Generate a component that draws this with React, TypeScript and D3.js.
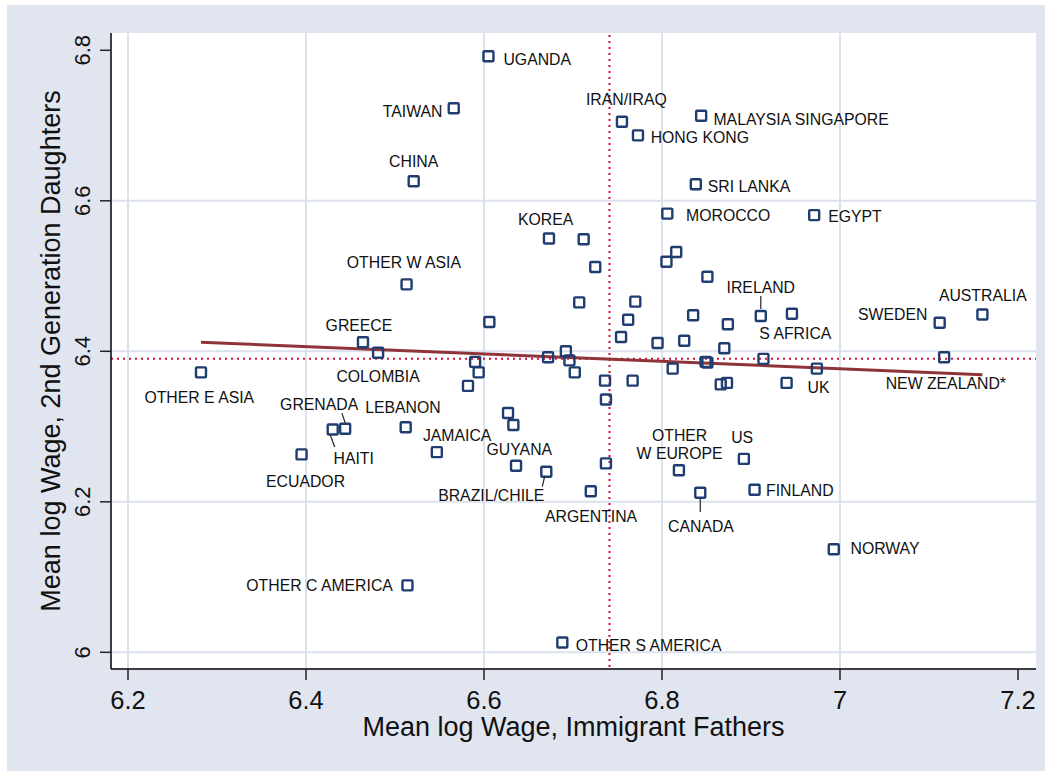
import React from 'react';
import * as d3 from 'd3';

// Stata-style scatter: 2nd generation daughters vs immigrant fathers, by origin country

const W = 1051;
const H = 772;
const FONT = '"Liberation Sans", Arial, Helvetica, sans-serif';

// ─── data ──────────────────────────────────────────────────────────────────

const countries = [
  'UGANDA', 'TAIWAN', 'IRAN/IRAQ', 'MALAYSIA SINGAPORE', 'HONG KONG', 'CHINA',
  'SRI LANKA', 'MOROCCO', 'EGYPT', 'KOREA', 'OTHER W ASIA', 'IRELAND', 'S AFRICA',
  'SWEDEN', 'AUSTRALIA', 'GREECE', 'COLOMBIA', 'OTHER E ASIA', 'NEW ZEALAND*', 'UK',
  'GRENADA', 'HAITI', 'LEBANON', 'JAMAICA', 'ECUADOR', 'GUYANA', 'BRAZIL/CHILE',
  'ARGENTINA', 'OTHER\nW EUROPE', 'US', 'CANADA', 'FINLAND', 'NORWAY',
  'OTHER C AMERICA', 'OTHER S AMERICA',
];
const fatherWage = [
  6.605, 6.566, 6.755, 6.844, 6.773, 6.521,
  6.838, 6.806, 6.971, 6.673, 6.513, 6.911, 6.946,
  7.112, 7.160, 6.464, 6.481, 6.282, 7.117, 6.974,
  6.444, 6.430, 6.512, 6.547, 6.395, 6.636, 6.670,
  6.720, 6.819, 6.892, 6.843, 6.904, 6.993,
  6.514, 6.688,
];
const daughterWage = [
  6.792, 6.723, 6.705, 6.713, 6.687, 6.626,
  6.622, 6.583, 6.581, 6.550, 6.489, 6.447, 6.450,
  6.438, 6.449, 6.412, 6.398, 6.372, 6.392, 6.377,
  6.297, 6.296, 6.299, 6.266, 6.263, 6.248, 6.240,
  6.214, 6.242, 6.257, 6.212, 6.216, 6.137,
  6.089, 6.013,
];

// unlabelled origins
const otherFatherWage = [
  6.712, 6.725, 6.805, 6.816, 6.851, 6.707, 6.770, 6.606, 6.762, 6.754,
  6.795, 6.825, 6.835, 6.874, 6.870, 6.914, 6.812, 6.851, 6.849, 6.866,
  6.873, 6.940, 6.590, 6.594, 6.582, 6.672, 6.692, 6.696, 6.702, 6.736,
  6.737, 6.767, 6.627, 6.633, 6.737,
];
const otherDaughterWage = [
  6.549, 6.512, 6.519, 6.532, 6.499, 6.465, 6.466, 6.439, 6.442, 6.419,
  6.411, 6.414, 6.448, 6.436, 6.404, 6.390, 6.377, 6.385, 6.386, 6.356,
  6.358, 6.358, 6.386, 6.372, 6.354, 6.392, 6.400, 6.388, 6.372, 6.361,
  6.336, 6.361, 6.318, 6.302, 6.251,
];

const meanFather = 6.741;
const meanDaughter = 6.39;
const fitX = [6.282, 7.16];
const fitY = [6.412, 6.369];

const xTicks = [6.2, 6.4, 6.6, 6.8, 7, 7.2];
const yTicks = [6, 6.2, 6.4, 6.6, 6.8];
const xGrid = [6.2, 6.4, 6.6, 6.8, 7];
const yGrid = [6, 6.2, 6.4, 6.6];

// ─── label placement (offsets from marker centre, px) ─────────────────────

type Lbl = { a: 'start' | 'middle' | 'end'; dx: number; dy: number; lead?: [number, number, number, number] };
const labelAt: Record<string, Lbl> = {
  'UGANDA': { a: 'start', dx: 15, dy: 2.6 },
  'TAIWAN': { a: 'end', dx: -11.3, dy: 2.7 },
  'IRAN/IRAQ': { a: 'middle', dx: 4.4, dy: -22.4 },
  'MALAYSIA SINGAPORE': { a: 'start', dx: 12.3, dy: 3.3 },
  'HONG KONG': { a: 'start', dx: 12.7, dy: 2.3 },
  'CHINA': { a: 'middle', dx: 0, dy: -20 },
  'SRI LANKA': { a: 'start', dx: 12, dy: 1.7 },
  'MOROCCO': { a: 'start', dx: 18.7, dy: 2 },
  'EGYPT': { a: 'start', dx: 14, dy: 1 },
  'KOREA': { a: 'middle', dx: -3.3, dy: -19.3 },
  'OTHER W ASIA': { a: 'middle', dx: -2.7, dy: -22 },
  'IRELAND': { a: 'middle', dx: 0, dy: -28.7, lead: [0, -20, 0, -7] },
  'S AFRICA': { a: 'middle', dx: 3.4, dy: 19.3 },
  'SWEDEN': { a: 'end', dx: -12.3, dy: -8.2 },
  'AUSTRALIA': { a: 'middle', dx: 0.4, dy: -18.6 },
  'GREECE': { a: 'middle', dx: -4, dy: -16.8 },
  'COLOMBIA': { a: 'middle', dx: 0, dy: 23.3 },
  'OTHER E ASIA': { a: 'middle', dx: -1.7, dy: 24.6 },
  'NEW ZEALAND*': { a: 'middle', dx: 1.7, dy: 25.6 },
  'UK': { a: 'middle', dx: 1.6, dy: 19 },
  'GRENADA': { a: 'middle', dx: -26, dy: -24, lead: [-3.3, -15.7, 0, -6] },
  'HAITI': { a: 'middle', dx: 21, dy: 29, lead: [-2.3, 5.7, 2, 17.4] },
  'LEBANON': { a: 'middle', dx: -2.7, dy: -19.7 },
  'JAMAICA': { a: 'middle', dx: 20.3, dy: -17 },
  'ECUADOR': { a: 'middle', dx: 4, dy: 27.4 },
  'GUYANA': { a: 'middle', dx: 3.3, dy: -16.4 },
  'BRAZIL/CHILE': { a: 'middle', dx: -55, dy: 23.3, lead: [-1.7, 5, -4, 15] },
  'ARGENTINA': { a: 'middle', dx: 0.3, dy: 24.7 },
  'OTHER\nW EUROPE': { a: 'middle', dx: 0.7, dy: -35 },
  'US': { a: 'middle', dx: -1.7, dy: -21.6 },
  'CANADA': { a: 'middle', dx: 0.7, dy: 34, lead: [0, 6.3, 0, 19.3] },
  'FINLAND': { a: 'start', dx: 11.5, dy: 1 },
  'NORWAY': { a: 'start', dx: 16.7, dy: -1 },
  'OTHER C AMERICA': { a: 'end', dx: -14.6, dy: 0.3 },
  'OTHER S AMERICA': { a: 'start', dx: 13.4, dy: 2.7 },
};

// ─── styling ──────────────────────────────────────────────────────────────

const BG = '#e0e5f0';
const GRID = '#dbe1ed';
const NAVY = '#1f3d70';
const MAROON = '#8f3439';
const RED = '#d0103a';
const LBL_FS = 15.8;
const PLOT = { l: 111, r: 1036, t: 33, b: 669 };

const x = d3.scaleLinear().domain([6.2, 7.2]).range([128, 1018]);
const y = d3.scaleLinear().domain([6, 6.8]).range([652.3, 50.3]);

const Marker: React.FC<{ cx: number; cy: number }> = ({ cx, cy }) => (
  <rect x={cx - 5} y={cy - 5} width={10} height={10} rx={1} fill="none" stroke={NAVY} strokeWidth={2.4} />
);

export default function App() {
  const fit = d3.line<number>().x(d => x(d)).y((_, i) => y(fitY[i]));
  return (
    <svg width={W} height={H} style={{ position: 'absolute', left: 0, top: 0 }} fontFamily={FONT}>
      <rect x={7} y={5} width={1038} height={766} fill={BG} />
      <rect x={PLOT.l} y={PLOT.t} width={PLOT.r - PLOT.l} height={PLOT.b - PLOT.t} fill="#fff" />

      {/* grid */}
      {xGrid.map(v => (
        <line key={`gx${v}`} x1={x(v)} x2={x(v)} y1={PLOT.t} y2={PLOT.b} stroke={GRID} strokeWidth={2} />
      ))}
      {yGrid.map(v => (
        <line key={`gy${v}`} x1={PLOT.l} x2={PLOT.r} y1={y(v)} y2={y(v)} stroke={GRID} strokeWidth={2} />
      ))}

      {/* mean reference lines */}
      <line x1={x(meanFather)} x2={x(meanFather)} y1={PLOT.t + 2} y2={PLOT.b} stroke={RED} strokeWidth={2} strokeDasharray="2 4" />
      <line x1={PLOT.l} x2={PLOT.r} y1={y(meanDaughter)} y2={y(meanDaughter)} stroke={RED} strokeWidth={2} strokeDasharray="2 4" />

      {/* fitted line */}
      <path d={fit(fitX) ?? undefined} fill="none" stroke={MAROON} strokeWidth={3} />

      {/* markers */}
      {otherFatherWage.map((v, i) => (
        <Marker key={`o${i}`} cx={x(v)} cy={y(otherDaughterWage[i])} />
      ))}
      {fatherWage.map((v, i) => (
        <Marker key={`m${i}`} cx={x(v)} cy={y(daughterWage[i])} />
      ))}

      {/* labels */}
      {countries.map((name, i) => {
        const cx = x(fatherWage[i]);
        const cy = y(daughterWage[i]);
        const l = labelAt[name];
        const lines = name.split('\n');
        return (
          <g key={name}>
            {l.lead && (
              <line x1={cx + l.lead[0]} y1={cy + l.lead[1]} x2={cx + l.lead[2]} y2={cy + l.lead[3]} stroke="#222" strokeWidth={1.2} />
            )}
            {lines.map((t, k) => (
              <text
                key={k}
                x={cx + l.dx}
                y={cy + l.dy + k * 18.3 + 0.358 * LBL_FS}
                textAnchor={l.a}
                fontSize={LBL_FS}
                fill="#111"
              >
                {t}
              </text>
            ))}
          </g>
        );
      })}

      {/* axes */}
      <line x1={PLOT.l} x2={PLOT.l} y1={PLOT.t} y2={PLOT.b} stroke="#000" strokeWidth={1.5} />
      <line x1={PLOT.l} x2={PLOT.r} y1={PLOT.b} y2={PLOT.b} stroke="#000" strokeWidth={1.5} />
      {xTicks.map(v => (
        <g key={`xt${v}`}>
          <line x1={x(v)} x2={x(v)} y1={PLOT.b} y2={PLOT.b + 11} stroke="#222" strokeWidth={1.5} />
          <text x={x(v)} y={709} textAnchor="middle" fontSize={25.5} fill="#111">{d3.format('~g')(v)}</text>
        </g>
      ))}
      {yTicks.map(v => (
        <g key={`yt${v}`}>
          <line x1={PLOT.l - 11} x2={PLOT.l} y1={y(v)} y2={y(v)} stroke="#222" strokeWidth={1.5} />
          <text transform={`translate(90,${y(v)}) rotate(-90)`} textAnchor="middle" fontSize={22} fill="#111">
            {d3.format('~g')(v)}
          </text>
        </g>
      ))}

      <text x={(PLOT.l + PLOT.r) / 2} y={735.7} textAnchor="middle" fontSize={27} fill="#111">
        Mean log Wage, Immigrant Fathers
      </text>
      <text transform={`translate(60,${(PLOT.t + PLOT.b) / 2}) rotate(-90)`} textAnchor="middle" fontSize={27} fill="#111">
        Mean log Wage, 2nd Generation Daughters
      </text>
    </svg>
  );
}
